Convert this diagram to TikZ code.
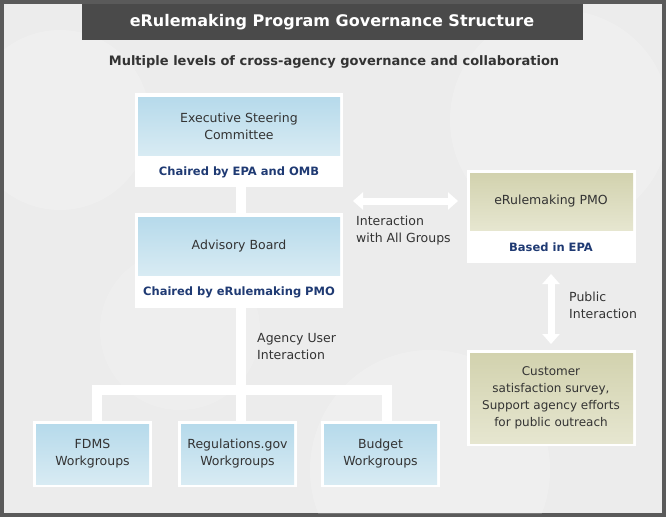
\documentclass[tikz,border=0pt]{standalone}
\usepackage{fontspec}
\setmainfont{DejaVu Sans}
\usetikzlibrary{arrows.meta,calc}
\definecolor{bgc}{HTML}{ECECEC}
\definecolor{frame}{HTML}{5A5A5A}
\definecolor{titlec}{HTML}{4A4A4A}
\definecolor{txt}{HTML}{333333}
\definecolor{navy}{HTML}{1F3A73}
\definecolor{blueT}{HTML}{B6DAEB}
\definecolor{blueB}{HTML}{D8EBF3}
\definecolor{oliT}{HTML}{D2D2AE}
\definecolor{oliB}{HTML}{E6E6D0}
\tikzset{
  x=1pt,y=-1pt,
  band/.style={white,line width=10pt},
  dbl/.style={white,line width=7pt,{Triangle[width=17pt,length=10pt]}-{Triangle[width=17pt,length=10pt]}},
  lbl/.style={text=txt,font=\fontsize{12.5}{17}\selectfont,align=left,anchor=north west,inner sep=0},
  captxt/.style={text=navy,font=\bfseries\fontsize{11.5}{14}\selectfont},
  intext/.style={text=txt,font=\fontsize{12.5}{17}\selectfont,align=center},
}
\begin{document}
\begin{tikzpicture}
\useasboundingbox (0,0) rectangle (666,517);
\fill[frame] (0,0) rectangle (666,517);
\fill[bgc] (4,4) rectangle (662,513);
\begin{scope}
\clip (4,4) rectangle (662,513);
\fill[white,opacity=0.18] (60,120) circle (90);
\fill[white,opacity=0.18] (560,120) circle (110);
\fill[white,opacity=0.18] (430,470) circle (120);
\fill[white,opacity=0.15] (180,330) circle (80);
\end{scope}
% title
\fill[titlec] (82,4) rectangle (583,40);
\node[text=white,font=\bfseries\fontsize{16}{20}\selectfont] (title) at (332,22) {eRulemaking Program Governance Structure};
\node[text=txt,font=\bfseries\fontsize{13}{16}\selectfont] (sub) at (334,62) {Multiple levels of cross-agency governance and collaboration};
% connectors
\coordinate (j) at (241,390);
\coordinate (jl) at (97,390);
\coordinate (jr) at (387,390);
\draw[band] (241,187) -- (241,213);
\draw[band] (241,308) -- (j);
\draw[band,line cap=rect] (97,421) -- (jl) -- (jr) -- (387,421);
\draw[band] (j) -- (241,421);
% ESC
\fill[white] (135,93) rectangle (343,187);
\shade[top color=blueT,bottom color=blueB] (138,97) rectangle (340,155);
\node[intext] (esc) at (239,126) {Executive Steering\\Committee};
\node[captxt] (escc) at (239,172) {Chaired by EPA and OMB};
% Advisory
\fill[white] (135,213) rectangle (343,308);
\shade[top color=blueT,bottom color=blueB] (138,217) rectangle (340,275);
\node[intext] (adv) at (239,246) {Advisory Board};
\node[captxt] (advc) at (239,292) {Chaired by eRulemaking PMO};
% bottom boxes
\foreach \n/\x/\t in {fdms/33/{FDMS\\Workgroups},reg/178/{Regulations.gov\\Workgroups},bud/321/{Budget\\Workgroups}}{
  \fill[white] (\x,421) rectangle ($(\x,487)+(119,0)$);
  \shade[top color=blueT,bottom color=blueB] ($(\x,424)+(3,0)$) rectangle ($(\x,484)+(116,0)$);
  \node[intext] (\n) at ($(\x,454)+(59.5,0)$) {\t};
}
% PMO
\fill[white] (467,170) rectangle (636,263);
\shade[top color=oliT,bottom color=oliB] (470,173) rectangle (633,230);
\node[intext] (pmo) at (551,201) {eRulemaking PMO};
\node[captxt] (pmoc) at (551,247) {Based in EPA};
% customer
\fill[white] (467,350) rectangle (636,446);
\shade[top color=oliT,bottom color=oliB] (470,353) rectangle (633,443);
\node[intext,font=\fontsize{12}{17}\selectfont] (cust) at (551,398) {Customer\\satisfaction survey,\\Support agency efforts\\for public outreach};
% arrows
\coordinate (a1) at (353,201);
\coordinate (a2) at (458,201);
\draw[dbl] (a1) -- (a2);
\coordinate (b1) at (551,274);
\coordinate (b2) at (551,344);
\draw[dbl] (b1) -- (b2);
% labels
\node[lbl] (l1) at (356,216) {Interaction\\with All Groups};
\node[lbl] (l2) at (569,292) {Public\\Interaction};
\node[lbl] (l3) at (257,333) {Agency User\\Interaction};
\end{tikzpicture}
\end{document}
